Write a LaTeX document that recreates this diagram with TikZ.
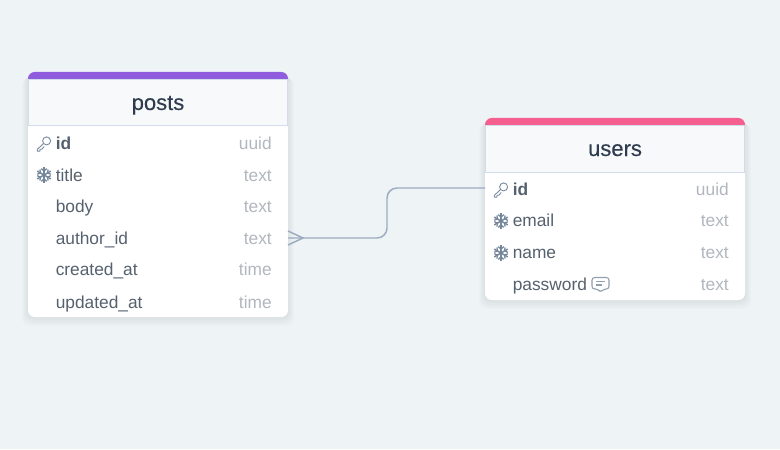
\documentclass[tikz,border=0pt]{standalone}
\usepackage{fontspec}
\setmainfont{Liberation Sans}
\usepackage{xcolor}
\usetikzlibrary{calc,positioning}
\definecolor{PageBg}{HTML}{EEF3F6}
\definecolor{PostBar}{HTML}{8E5CDC}
\definecolor{UserBar}{HTML}{F55F8F}
\definecolor{HeadBg}{HTML}{F7F9FB}
\definecolor{HeadLine}{HTML}{D3DCEA}
\definecolor{TitleInk}{HTML}{2F3B4E}
\definecolor{RowInk}{HTML}{56616F}
\definecolor{TypeInk}{HTML}{B2B7BE}
\definecolor{IconInk}{HTML}{75879A}
\definecolor{LinkInk}{HTML}{9CACBF}
\tikzset{
  tabletitle/.style={font=\fontsize{16.5}{16.5}\selectfont\addfontfeature{FakeBold=0.25}, color=TitleInk, anchor=base},
  rowname/.style={font=\fontsize{13}{13}\selectfont, color=RowInk, anchor=base west, inner sep=0pt},
  rowtype/.style={font=\fontsize{13}{13}\selectfont, color=TypeInk, anchor=base east, inner sep=0pt},
  link/.style={draw=LinkInk, line width=1.1pt},
  keyicon/.pic={
    \draw[IconInk, line width=0.65pt] (2.6,-2.6) circle[radius=4];
    \draw[IconInk, line width=0.65pt, line join=round] (-0.4,0) -- (-6.8,6) -- (-6.8,7.6) -- (-4,7.6) -- (-4,5.8) -- (-2.2,5.8) -- (0.2,3);
  },
  flakeicon/.pic={
    \foreach \aa in {30,90,...,330}{
      \draw[IconInk, line width=1.1pt] (0,0) -- (\aa:7.8);
      \draw[IconInk, line width=0.95pt] (\aa:4) -- ++(\aa+50:3.6);
      \draw[IconInk, line width=0.95pt] (\aa:4) -- ++(\aa-50:3.6);
    }
  },
  noteicon/.pic={
    \draw[IconInk!80, line width=0.8pt, rounded corners=2pt, line join=round]
      (-8.5,-6.5) -- (8.5,-6.5) -- (8.5,5) -- (3,5) -- (0,8.5) -- (-2.5,5) -- (-8.5,5) -- cycle;
    \draw[IconInk!80, line width=0.8pt] (-4.5,-2.5) -- (4.5,-2.5) (-4.5,1) -- (1,1);
  }
}

\begin{document}
\begin{tikzpicture}[x=0.75pt,y=-0.75pt]
  \useasboundingbox (0,0) rectangle (780,449);
  \fill[PageBg] (0,0) rectangle (780,449);
  %% table cards
  \foreach \tx/\ty/\th/\tc/\tname in {28/72/245/PostBar/posts,485/118/182/UserBar/users}{
    %% soft shadow
    \foreach \ss in {1,...,6}{
      \fill[black, opacity=0.012, rounded corners=6pt]
        (\tx-\ss, \ty+\ss) rectangle (\tx+260+\ss, \ty+\th+1.5*\ss);
    }
    \fill[white, rounded corners=5pt] (\tx,\ty) rectangle (\tx+260,\ty+\th);
    \fill[\tc] (\tx,\ty+9) [rounded corners=5pt] -- (\tx,\ty) -- (\tx+260,\ty) [sharp corners] -- (\tx+260,\ty+9) -- cycle;
    \fill[HeadBg] (\tx,\ty+8) rectangle (\tx+260,\ty+54);
    \draw[HeadLine, line width=0.75pt] (\tx+0.5,\ty+8) rectangle (\tx+259.5,\ty+54);
    \node[tabletitle] (title-\tname) at (\tx+130,\ty+38) {\tname};
  }
  %% posts rows
  \foreach \rname/\rlabel/\rtype/\yy in {pid/\textbf{id}/uuid/149,ptitle/title/text/181,pbody/body/text/212,pauthor/author\_id/text/244,pcreated/created\_at/time/275,pupdated/updated\_at/time/308}{
    \node[rowname] (\rname) at (55.5,\yy) {\rlabel};
    \node[rowtype] (\rname-type) at (272,\yy) {\rtype};
  }
  %% users rows
  \foreach \rname/\rlabel/\rtype/\yy in {uid/\textbf{id}/uuid/195,uemail/email/text/226,uname/name/text/258,upassword/password/text/290}{
    \node[rowname] (\rname) at (512.5,\yy) {\rlabel};
    \node[rowtype] (\rname-type) at (729,\yy) {\rtype};
  }
  %% row icons
  \pic at (44,143.5) {keyicon};
  \pic at (44,175) {flakeicon};
  \pic at (501,189.5) {keyicon};
  \pic at (501,221) {flakeicon};
  \pic at (501,253) {flakeicon};
  \pic at (600.5,284) {noteicon};
  %% connector
  \coordinate (authorend) at (288,238);
  \coordinate (crowtip) at (303,238);
  \coordinate (idend) at (485,188);
  \draw[link, rounded corners=7.5pt] (authorend) -- ($(authorend)+(99,0)$) -- ($(idend)+(-98,0)$) -- (idend);
  \draw[link] (288,231) -- (crowtip) -- (288,245);
\end{tikzpicture}
\end{document}
